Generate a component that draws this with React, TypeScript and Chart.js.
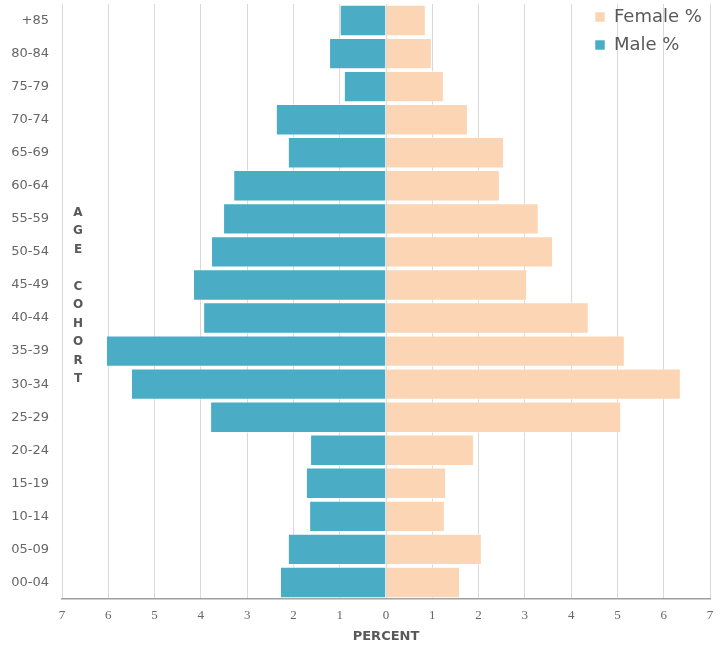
import React, { useEffect, useRef } from 'react';
import { Chart, registerables } from 'chart.js';

Chart.register(...registerables);

const ageGroups = ['+85', '80-84', '75-79', '70-74', '65-69', '60-64', '55-59', '50-54', '45-49', '40-44', '35-39', '30-34', '25-29', '20-24', '15-19', '10-14', '05-09', '00-04'];
const femalePct = [0.86, 0.99, 1.25, 1.77, 2.55, 2.46, 3.30, 3.61, 3.05, 4.38, 5.16, 6.37, 5.08, 1.90, 1.30, 1.27, 2.07, 1.60];
const malePct = [1.00, 1.23, 0.91, 2.38, 2.12, 3.30, 3.52, 3.78, 4.17, 3.95, 6.05, 5.51, 3.80, 1.64, 1.73, 1.66, 2.12, 2.29];
const seriesNames = ['Female %', 'Male %'];
const xMin = -7;
const xMax = 7;
const xTitle = 'PERCENT';
const yTitleLetters = ['A', 'G', 'E', '', 'C', 'O', 'H', 'O', 'R', 'T'];

const FEMALE_COLOR = '#FCD5B4';
const MALE_COLOR = '#4BACC6';

const legendPlacer = {
  id: 'legendPlacer',
  afterLayout(chart: any) {
    const lg = chart.legend;
    const ca = chart.chartArea;
    if (!lg || !ca) return;
    const w = lg.width;
    const h = lg.height;
    lg.left = ca.right - 125;
    lg.right = lg.left + w;
    lg.top = ca.top - 6;
    lg.bottom = lg.top + h;
  },
};

const yTitlePlugin = {
  id: 'yTitleStack',
  afterDraw(chart: any) {
    const { ctx, chartArea } = chart;
    ctx.save();
    ctx.font = "bold 12px 'DejaVu Sans'";
    ctx.fillStyle = '#595959';
    ctx.textAlign = 'center';
    ctx.textBaseline = 'middle';
    const lh = 18.5;
    const cy = (chartArea.top + chartArea.bottom) / 2 - 5.5;
    const y0 = cy - ((yTitleLetters.length - 1) / 2) * lh;
    yTitleLetters.forEach((ch, i) => {
      if (ch) ctx.fillText(ch, chartArea.left + 16, y0 + i * lh);
    });
    ctx.restore();
  },
};

export default function App() {
  const canvasRef = useRef<HTMLCanvasElement | null>(null);

  useEffect(() => {
    if (!canvasRef.current) return;
    const chart = new Chart(canvasRef.current, {
      type: 'bar',
      data: {
        labels: ageGroups,
        datasets: [
          {
            label: seriesNames[0],
            data: femalePct,
            backgroundColor: FEMALE_COLOR,
            borderColor: 'rgba(255,255,255,0.55)',
            borderWidth: 1,
            barPercentage: 0.95,
            categoryPercentage: 1,
          },
          {
            label: seriesNames[1],
            data: malePct.map((v) => -v),
            backgroundColor: MALE_COLOR,
            borderColor: 'rgba(255,255,255,0.55)',
            borderWidth: 1,
            barPercentage: 0.95,
            categoryPercentage: 1,
          },
        ],
      },
      options: {
        indexAxis: 'y',
        responsive: false,
        animation: false,
        layout: { padding: { left: 0, right: 12, top: 4, bottom: 0 } },
        plugins: {
          tooltip: { enabled: false },
          legend: {
            position: 'chartArea',
            align: 'start',
            labels: {
              boxWidth: 10,
              boxHeight: 10,
              padding: 10,
              color: '#595959',
              font: { family: "'DejaVu Sans', sans-serif", size: 18 },
            },
          },
        },
        scales: {
          x: {
            stacked: true,
            min: xMin,
            max: xMax,
            afterFit: (scale: any) => {
              scale.height = 46;
              scale.paddingLeft = 0;
              scale.paddingRight = 0;
            },
            ticks: {
              stepSize: 1,
              padding: 9,
              color: '#666666',
              font: { family: "'Liberation Serif', serif", size: 13 },
              callback: (v: any) => String(Math.abs(Number(v))),
            },
            grid: { color: '#d9d9d9', lineWidth: 1, drawTicks: false },
            border: { display: true, color: '#a0a0a0', width: 1.5 },
            title: {
              display: true,
              text: xTitle,
              color: '#595959',
              font: { family: "'DejaVu Sans', sans-serif", size: 13, weight: 'bold' },
              padding: { top: 0, bottom: 1 },
            },
          },
          y: {
            stacked: true,
            afterFit: (scale: any) => {
              scale.width = 62;
              scale.paddingTop = 0;
              scale.paddingBottom = 0;
            },
            ticks: {
              padding: 13,
              color: '#666666',
              font: { family: "'DejaVu Sans', sans-serif", size: 13 },
            },
            grid: { display: false, drawTicks: false },
            border: { display: false },
          },
        },
      },
      plugins: [legendPlacer, yTitlePlugin],
    } as any);
    return () => chart.destroy();
  }, []);

  return (
    <div style={{ position: 'absolute', left: 0, top: 0, width: 722, height: 645 }}>
      <canvas ref={canvasRef} width={722} height={645} />
    </div>
  );
}
